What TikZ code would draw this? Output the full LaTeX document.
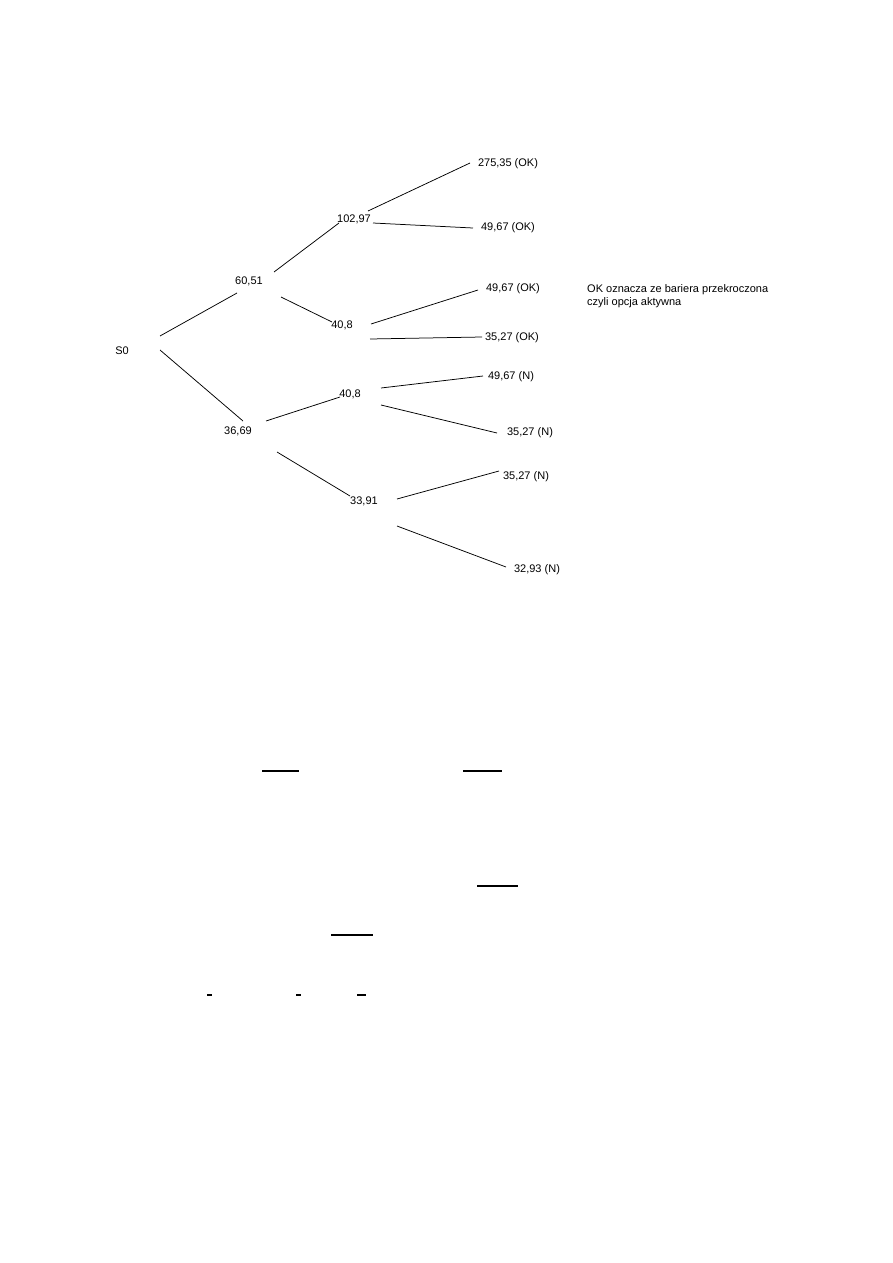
\documentclass[tikz,border=0pt]{standalone}
\usepackage{fontspec}
\setmainfont{Liberation Sans}
\usepackage{tikz}

\tikzset{
  val/.style={inner sep=0pt,text height=8pt,text depth=0pt,font=\fontsize{11}{13}\selectfont},
  branch/.style={line width=0.75pt},
  bar/.style={line width=1.6pt}
}

\begin{document}
\begin{tikzpicture}[x=1pt,y=-1pt]
  \useasboundingbox (0,0) rectangle (893,1263);
  % tree nodes
  \node[val] (s0) at (122,350) {S0};
  \node[val] (up) at (249,280) {60,51};
  \node[val] (dn) at (238,430) {36,69};
  \node[val] (uu) at (354,218) {102,97};
  \node[val] (ud) at (342,324) {40,8};
  \node[val] (du) at (350,393) {40,8};
  \node[val] (dd) at (364,500) {33,91};
  \node[val] (uuu) at (508,162) {275,35 (OK)};
  \node[val] (uud) at (508,226) {49,67 (OK)};
  \node[val] (udu) at (513,287) {49,67 (OK)};
  \node[val] (udd) at (512,336) {35,27 (OK)};
  \node[val] (duu) at (511,375) {49,67 (N)};
  \node[val] (dud) at (530,431) {35,27 (N)};
  \node[val] (ddu) at (526,475) {35,27 (N)};
  \node[val] (ddd) at (537,568) {32,93 (N)};
  \node[val,anchor=north west,align=left,text height=,text depth=] (note) at (587,284)
    {OK oznacza ze bariera przekroczona\\czyli opcja aktywna};
  % branches
  \draw[branch] ([shift={(38,-14)}]s0.center) -- ([shift={(-12,13)}]up.center);
  \draw[branch] ([shift={(38,0)}]s0.center) -- ([shift={(5,-9)}]dn.center);
  \draw[branch] ([shift={(25,-8)}]up.center) -- ([shift={(-15,5)}]uu.center);
  \draw[branch] ([shift={(32,17)}]up.center) -- ([shift={(-10,-2)}]ud.center);
  \draw[branch] ([shift={(28,-9)}]dn.center) -- ([shift={(-10,4)}]du.center);
  \draw[branch] ([shift={(39,22)}]dn.center) -- ([shift={(-14,-4)}]dd.center);
  \draw[branch] ([shift={(14,-7)}]uu.center) -- ([shift={(-38,1)}]uuu.center);
  \draw[branch] ([shift={(19,5)}]uu.center) -- ([shift={(-35,2)}]uud.center);
  \draw[branch] ([shift={(29,0)}]ud.center) -- ([shift={(-35,3)}]udu.center);
  \draw[branch] ([shift={(28,15)}]ud.center) -- ([shift={(-30,1)}]udd.center);
  \draw[branch] ([shift={(31,-5)}]du.center) -- ([shift={(-28,1)}]duu.center);
  \draw[branch] ([shift={(31,12)}]du.center) -- ([shift={(-33,2)}]dud.center);
  \draw[branch] ([shift={(33,-1)}]dd.center) -- ([shift={(-27,-4)}]ddu.center);
  \draw[branch] ([shift={(33,26)}]dd.center) -- ([shift={(-31,-1)}]ddd.center);
  % leftover bars
  \draw[bar] (262,771) -- (299,771);
  \draw[bar] (463,771) -- (502,771);
  \draw[bar] (477,886) -- (518,886);
  \draw[bar] (331,935) -- (373,935);
  \draw[bar] (207,995) -- (212,995);
  \draw[bar] (296,995) -- (301,995);
  \draw[bar] (357,995) -- (366,995);
\end{tikzpicture}
\end{document}
